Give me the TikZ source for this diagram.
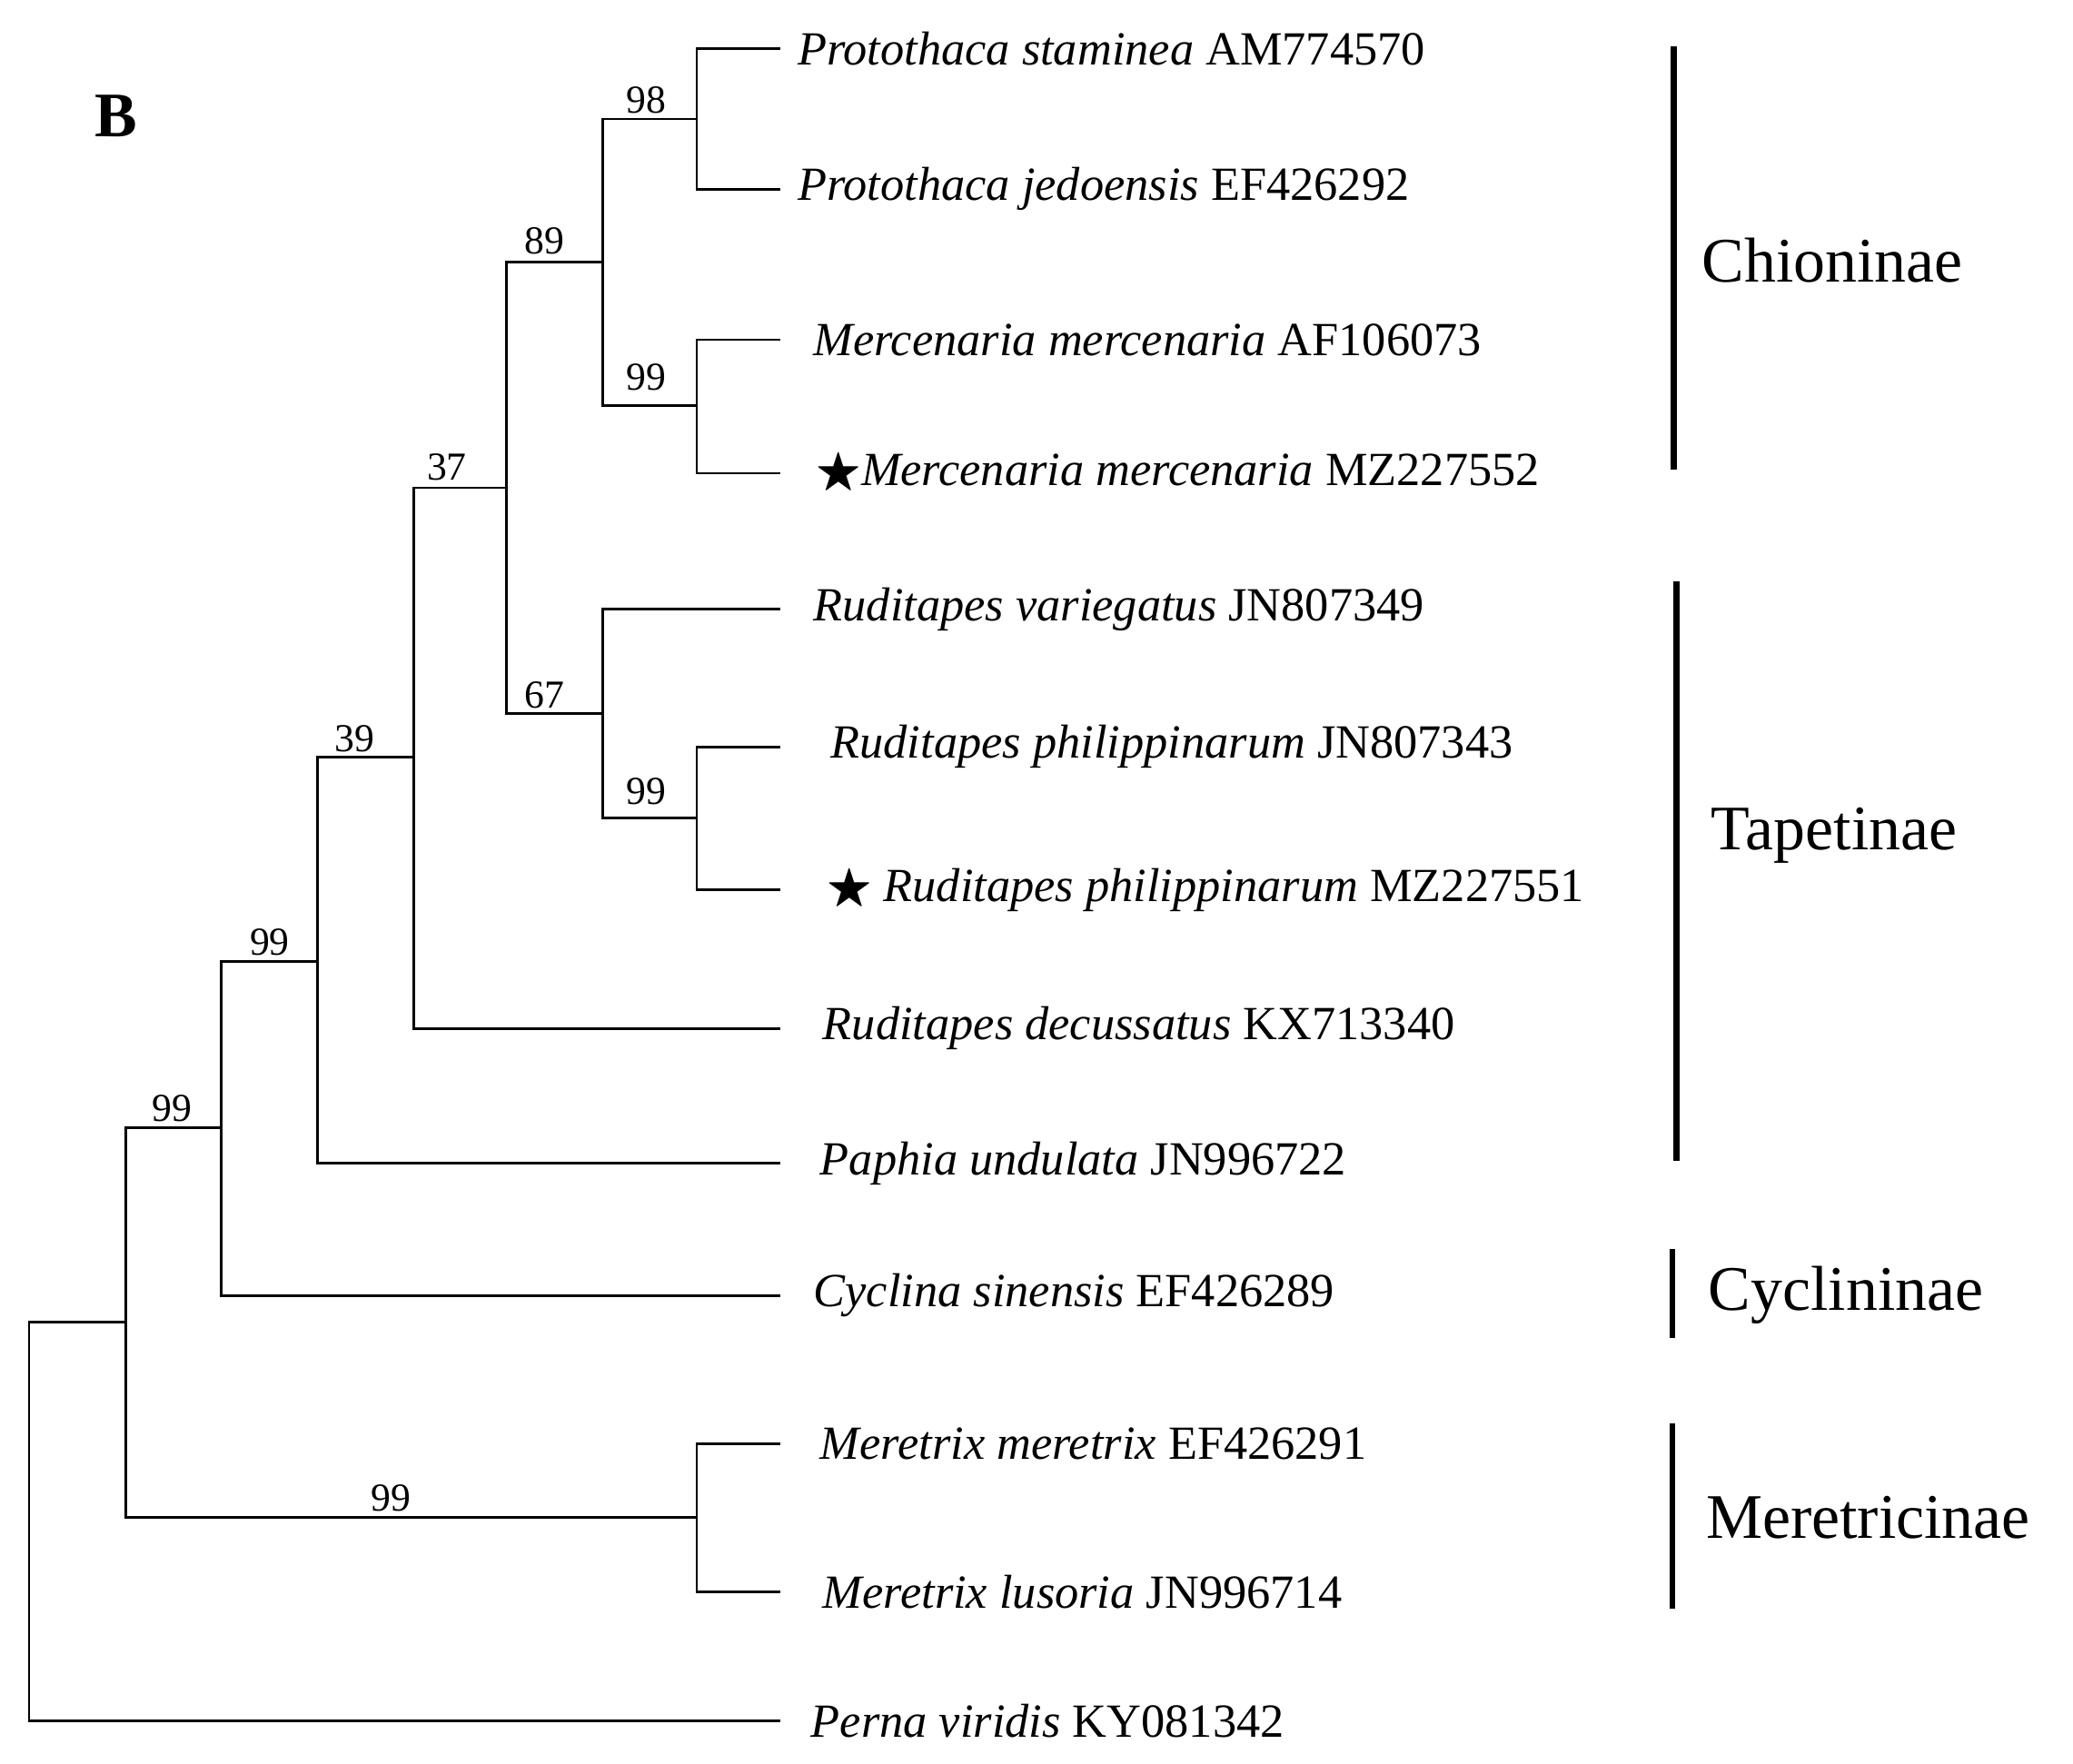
\documentclass[tikz,border=0pt]{standalone}
\usepackage{amssymb}
\usepackage{fontspec}
\setmainfont{Liberation Serif}
\begin{document}
\begin{tikzpicture}[x=0.5pt,y=-0.5pt,
  br/.style={line width=1pt},
  bar/.style={line width=2.2pt},
  tip/.style={anchor=west,font=\fontsize{18}{20}\selectfont,inner sep=0pt},
  bs/.style={anchor=south,font=\fontsize{15}{16}\selectfont,inner sep=2pt},
  clade/.style={anchor=west,font=\fontsize{24}{26}\selectfont,inner sep=0pt}]
\useasboundingbox (0,0) rectangle (1568,1334);
\node[anchor=center,font=\fontsize{24}{26}\selectfont\bfseries] (B) at (88,88) {B};
% tip ends
\foreach \n/\y in {t1/37,t2/143,t3/257,t4/358,t5/461,t6/565,t7/673,t8/778,t9/880,t10/980,t11/1092,t12/1204,t13/1302}
  \coordinate (\n) at (590,\y);
% internal nodes
\coordinate (a) at (527,90);
\coordinate (b) at (527,307);
\coordinate (c) at (456,198);
\coordinate (d) at (527,619);
\coordinate (e) at (456,540);
\coordinate (f) at (383,369);
\coordinate (g) at (313,573);
\coordinate (h) at (240,727);
\coordinate (i) at (167,853);
\coordinate (m) at (527,1148);
\coordinate (j) at (95,1000);
\coordinate (r) at (22,1151);
\draw[br] (t1) -| (a) |- (t2);
\draw[br] (t3) -| (b) |- (t4);
\draw[br] (a) -| (c) |- (b);
\draw[br] (t6) -| (d) |- (t7);
\draw[br] (t5) -| (e) |- (d);
\draw[br] (c) -| (f) |- (e);
\draw[br] (f) -| (g) |- (t8);
\draw[br] (g) -| (h) |- (t9);
\draw[br] (h) -| (i) |- (t10);
\draw[br] (t11) -| (m) |- (t12);
\draw[br] (i) -| (j) |- (m);
\draw[br] (j) -| (r) |- (t13);
% bootstrap
\node[bs] (l1) at (489,90) {98};
\node[bs] (l2) at (489,300) {99};
\node[bs] (l3) at (412,197) {89};
\node[bs] (l4) at (412,540) {67};
\node[bs] (l5) at (338,368) {37};
\node[bs] (l6) at (268,573) {39};
\node[bs] (l7) at (204,727) {99};
\node[bs] (l8) at (130,853) {99};
\node[bs] (l9) at (296,1148) {99};
\node[bs] (l10) at (489,613) {99};
% tips
\node[tip] (n1) at (603,37) {\textit{Protothaca staminea} AM774570};
\node[tip] (n2) at (603,143) {\textit{Protothaca jedoensis} EF426292};
\node[tip] (n3) at (615,257) {\textit{Mercenaria mercenaria} AF106073};
\node[tip] (n4) at (617,358) {$\bigstar$\textit{Mercenaria mercenaria} MZ227552};
\node[tip] (n5) at (615,461) {\textit{Ruditapes variegatus} JN807349};
\node[tip] (n6) at (628,565) {\textit{Ruditapes philippinarum} JN807343};
\node[tip] (n7) at (625,673) {$\bigstar$ \textit{Ruditapes philippinarum} MZ227551};
\node[tip] (n8) at (622,778) {\textit{Ruditapes decussatus} KX713340};
\node[tip] (n9) at (620,880) {\textit{Paphia undulata} JN996722};
\node[tip] (n10) at (615,980) {\textit{Cyclina sinensis} EF426289};
\node[tip] (n11) at (620,1092) {\textit{Meretrix meretrix} EF426291};
\node[tip] (n12) at (622,1204) {\textit{Meretrix lusoria} JN996714};
\node[tip] (n13) at (613,1302) {\textit{Perna viridis} KY081342};
% clade bars
\draw[bar] (1266,35) -- (1266,355);
\draw[bar] (1268,440) -- (1268,878);
\draw[bar] (1265,945) -- (1265,1012);
\draw[bar] (1265,1077) -- (1265,1217);
\node[clade] (c1) at (1287,197) {Chioninae};
\node[clade] (c2) at (1294,632) {Tapetinae};
\node[clade] (c3) at (1292,980) {Cyclininae};
\node[clade] (c4) at (1290,1148) {Meretricinae};
\end{tikzpicture}
\end{document}
